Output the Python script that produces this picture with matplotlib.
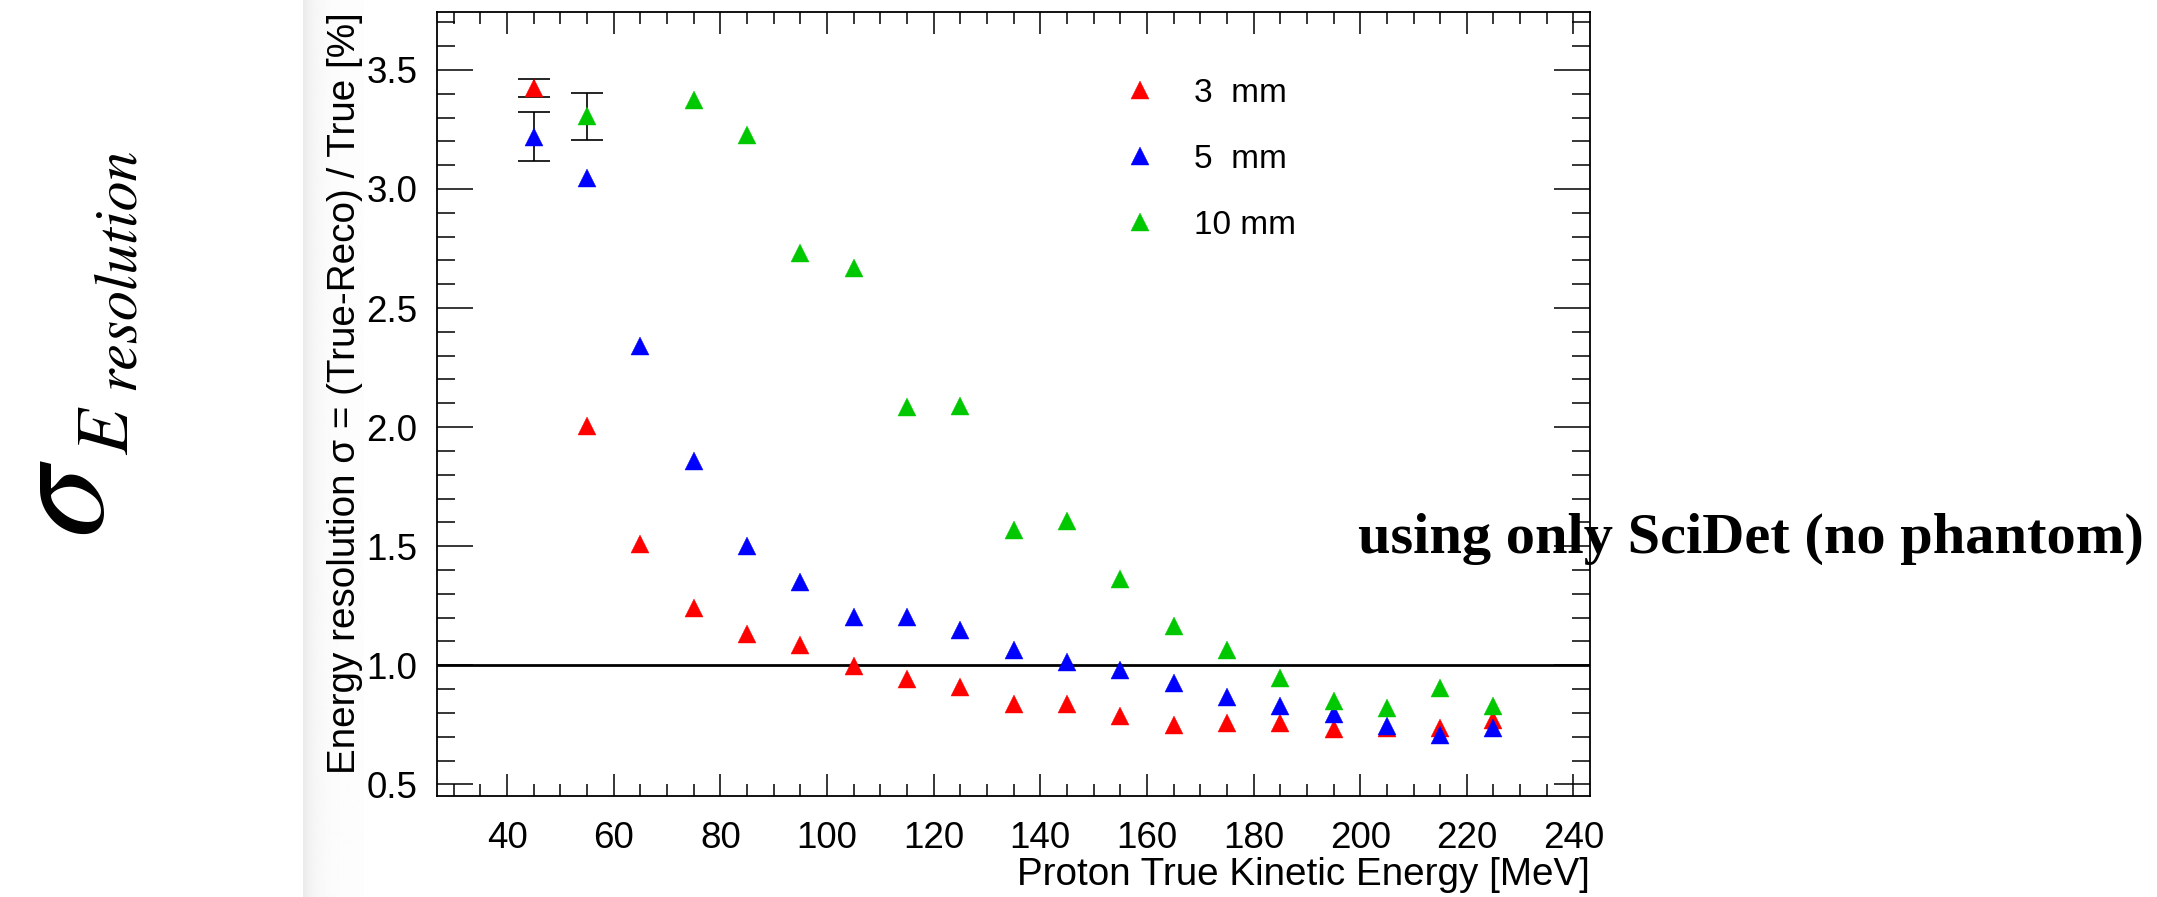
import numpy as np
import matplotlib
matplotlib.use("Agg")
import matplotlib.pyplot as plt
from matplotlib.ticker import MultipleLocator, FormatStrFormatter

plt.rcParams['font.family'] = ['Liberation Sans', 'DejaVu Sans']

# Proton energies [MeV]
energy = [45, 55, 65, 75, 85, 95, 105, 115, 125, 135, 145, 155, 165, 175, 185, 195, 205, 215, 225]

# energy resolution [%] per scintillator thickness
res_3mm = [3.425, 2.005, 1.508, 1.239, 1.133, 1.083, 0.997, 0.944, 0.907, 0.837,
           0.837, 0.785, 0.751, 0.758, 0.758, 0.733, 0.735, 0.736, 0.771]
res_5mm = [3.220, 3.047, 2.341, 1.858, 1.499, 1.351, 1.204, 1.204, 1.150, 1.066,
           1.014, 0.978, 0.927, 0.867, 0.830, 0.794, 0.744, 0.706, 0.736]
res_10mm = [np.nan, 3.305, np.nan, 3.375, 3.228, 2.729, 2.668, 2.084, 2.090, 1.570,
            1.605, 1.361, 1.163, 1.066, 0.945, 0.850, 0.822, 0.903, 0.830]

# visible error bars (the others are hidden behind the markers)
err_3mm = [0.038] + [0.0] * 18
err_5mm = [0.103] + [0.0] * 18
err_10mm = [0.0, 0.099] + [0.0] * 17

labels = ['3  mm', '5  mm', '10 mm']
colors = ['#ff0000', '#0000ff', '#00c800']

W, H = 2157, 897
fig = plt.figure(figsize=(W / 100, H / 100), dpi=100)

# light grey edge of the pasted canvas
bg = fig.add_axes([303 / W, 0, 60 / W, 1], zorder=-10)
shade = 0.992 - 0.07 * np.exp(-np.arange(60) / 12.0)
bg.imshow(shade[None, :], cmap='gray', vmin=0, vmax=1,
          aspect='auto', extent=(0, 1, 0, 1))
bg.axis('off')

ax = fig.add_axes([436.7 / W, 1 - 796 / H, (1590 - 436.7) / W, (796 - 12) / H])

series = [res_3mm, res_5mm, res_10mm]
errors = [err_3mm, err_5mm, err_10mm]
handles = []
for vals, errs, col, lab in zip(series, errors, colors, labels):
    x = np.array(energy, dtype=float)
    y = np.array(vals, dtype=float)
    e = np.array(errs, dtype=float)
    m = e > 0
    if m.any():
        ax.errorbar(x[m], y[m], yerr=e[m], fmt='none', ecolor='black',
                    elinewidth=1.2, capsize=11.5, capthick=1.2, zorder=2)
    h, = ax.plot(x, y, linestyle='none', marker='^', ms=12.5, color=col,
                 mec=col, mew=0.3, label=lab, zorder=3)
    handles.append(h)

ax.axhline(1.0, color='black', lw=2.0, zorder=1)

ax.set_xlim(26.8, 243.1)
ax.set_ylim(0.451, 3.743)
ax.xaxis.set_major_locator(MultipleLocator(20))
ax.xaxis.set_minor_locator(MultipleLocator(5))
ax.yaxis.set_major_locator(MultipleLocator(0.5))
ax.yaxis.set_minor_locator(MultipleLocator(0.1))
ax.yaxis.set_major_formatter(FormatStrFormatter('%.1f'))

ax.tick_params(axis='both', which='both', direction='in', top=True, right=True,
               width=1.1, labelsize=26.5)
ax.tick_params(axis='x', which='major', length=16, pad=18)
ax.tick_params(axis='x', which='minor', length=8.5)
ax.tick_params(axis='y', which='major', length=26, pad=14)
ax.tick_params(axis='y', which='minor', length=13)
for sp in ax.spines.values():
    sp.set_linewidth(1.3)

ax.set_xlabel('Proton True Kinetic Energy [MeV]', fontsize=27.8, loc='right')
ax.xaxis.set_label_coords(1.0, -0.078)
ax.set_ylabel('Energy resolution σ = (True-Reco) / True [%]', fontsize=27.8, loc='top')
ax.yaxis.set_label_coords(-0.064, 1.0)

ax.legend(handles=handles, loc='upper left', frameon=False,
          bbox_to_anchor=(1123.8 / W, 1 - 77.7 / H), bbox_transform=fig.transFigure,
          fontsize=24, handlelength=1.0, handletextpad=1.1, labelspacing=1.05,
          borderpad=0, borderaxespad=0, numpoints=1)

# big sigma_E_resolution annotation on the left (rotated, reads upwards)
serif_it = dict(family='STIXGeneral', style='italic', rotation=90,
                rotation_mode='anchor', ha='left', va='baseline')
fig.text(99 / W, 1 - 534 / H, 'σ', fontsize=104, **serif_it)
fig.text(128 / W, 1 - 455 / H, 'E', fontsize=54, **serif_it)
fig.text(134 / W, 1 - 390 / H, 'resolution', fontsize=43, **serif_it)

fig.text(1358 / W, 1 - 553 / H, 'using only SciDet (no phantom)', fontsize=42,
         fontweight='bold', family='Liberation Serif', ha='left', va='baseline')

fig.savefig('out.png', dpi=100)
